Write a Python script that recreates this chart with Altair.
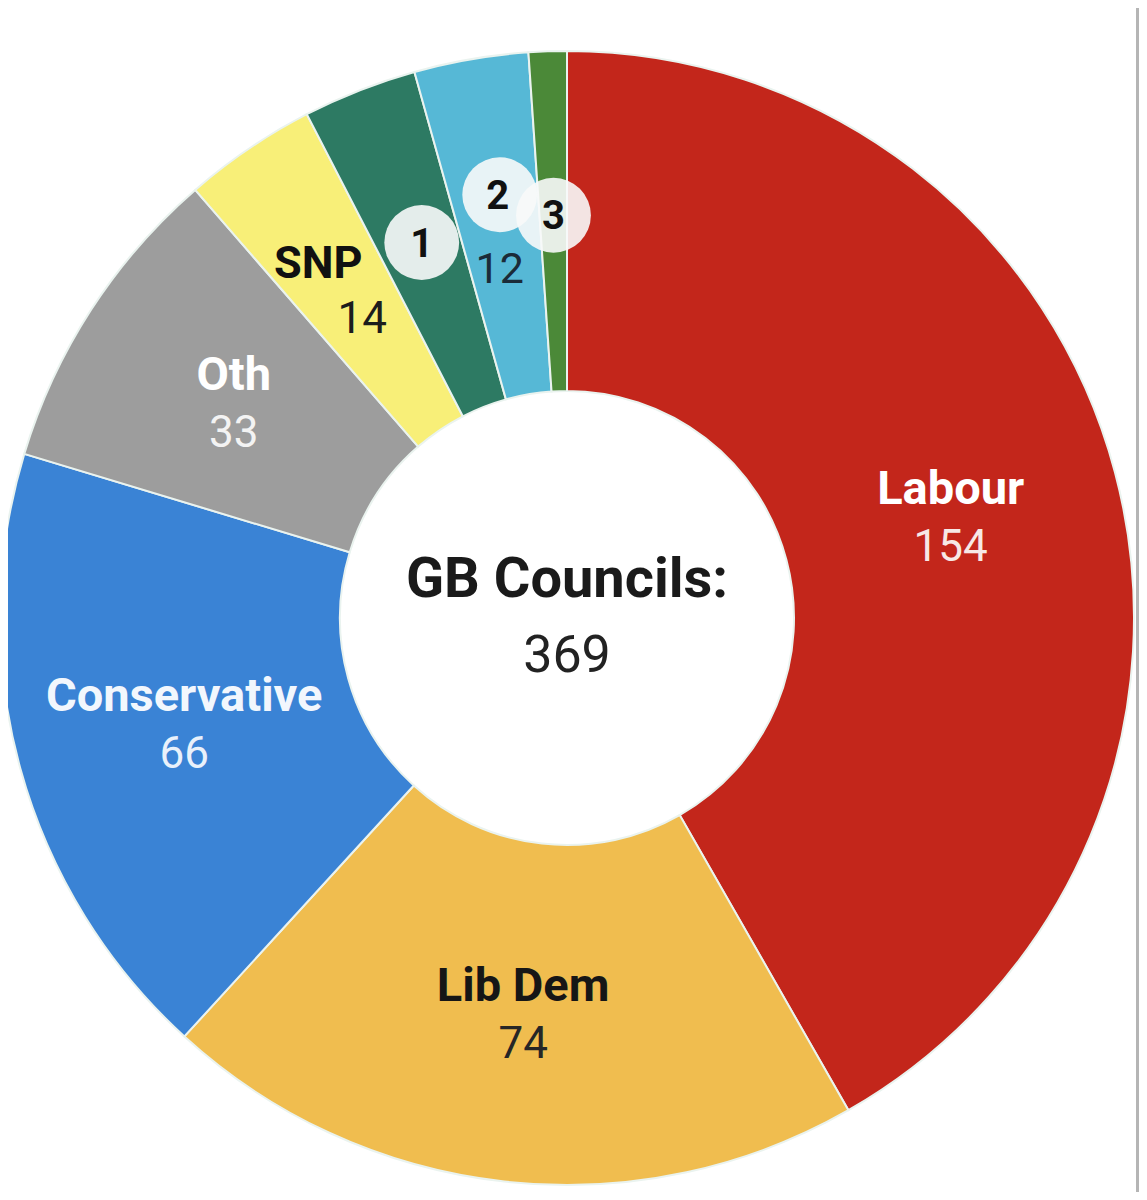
import math
import altair as alt
import pandas as pd

# ---- data ----
parties = ["Labour", "Lib Dem", "Conservative", "Oth", "SNP", "1", "2", "3"]
councils = [154, 74, 66, 33, 14, 12, 12, 4]
colors = ["#c3261b", "#f0bd4f", "#3a83d5", "#9d9d9d", "#f8ef78", "#2d7a63", "#56b8d6", "#4b8938"]
name_colors = ["#ffffff", "#161616", "#f2f7fd", "#ffffff", "#111111", "#111111", "#111111", "#111111"]
value_colors = ["#f7e8e6", "#262626", "#e9f1fb", "#f3f3f3", "#1c1c1c", "#1c1c1c", "#1b2b38", "#1c1c1c"]
center_title = "GB Councils:"
center_total = str(sum(councils))

df = pd.DataFrame({
    "party": parties,
    "councils": councils,
    "order": list(range(len(parties))),
    "name_color": name_colors,
    "value_color": value_colors,
})

W, H = 1131, 1184
CX, CY = 559, 610
R_IN, R_OUT, R_LAB = 227, 567, 397
TOTAL = sum(councils)

theta_scale = alt.Scale(domain=[0, TOTAL], range=[0, 2 * math.pi])

base = (
    alt.Chart(df)
    .transform_window(cum="sum(councils)", sort=[alt.SortField("order")], frame=[None, 0])
    .transform_joinaggregate(total="sum(councils)")
    .transform_calculate(
        start="datum.cum - datum.councils",
        mid="datum.cum - datum.councils / 2",
        ang="(datum.cum - datum.councils / 2) / datum.total * 2 * PI",
    )
)

arcs = base.mark_arc(innerRadius=R_IN, outerRadius=R_OUT, stroke="#eaf3ef", strokeWidth=2).encode(
    x=alt.value(CX),
    y=alt.value(CY),
    theta=alt.Theta("start:Q", scale=theta_scale, stack=False),
    theta2="cum:Q",
    color=alt.Color("party:N", scale=alt.Scale(domain=parties, range=colors), legend=None),
)


def polar_text(parties_sel, field, dx, dy, size, weight, color_field):
    return (
        base.transform_filter(alt.FieldOneOfPredicate(field="party", oneOf=parties_sel))
        .mark_text(radius=R_LAB, dx=dx, dy=dy, font="Roboto", fontSize=size,
                   fontWeight=weight, baseline="alphabetic", align="center")
        .encode(
            x=alt.value(CX),
            y=alt.value(CY),
            theta=alt.Theta("mid:Q", scale=theta_scale, stack=False),
            text=alt.Text(field),
            color=alt.Color(color_field + ":N", scale=None),
        )
    )


big = ["Labour", "Lib Dem", "Conservative", "Oth"]
names = polar_text(big, "party:N", 0, -12, 47, "bold", "name_color")
values = polar_text(big, "councils:Q", 0, 45, 44, "normal", "value_color")
snp_name = polar_text(["SNP"], "party:N", -26, -11, 45, "bold", "name_color")
snp_value = polar_text(["SNP"], "councils:Q", 18, 44, 44, "normal", "value_color")
two_value = polar_text(["2"], "councils:Q", 0, 56, 43, "normal", "value_color")


def badge_circles(parties_sel, off):
    return (
        base.transform_filter(alt.FieldOneOfPredicate(field="party", oneOf=parties_sel))
        .transform_calculate(
            px=f"{CX} + {R_LAB} * sin(datum.ang)",
            py=f"{CY} - {R_LAB} * cos(datum.ang) + ({off})",
        )
        .mark_circle(size=5600, color="#f8fafa", opacity=0.9)
        .encode(x=alt.X("px:Q", scale=None), y=alt.Y("py:Q", scale=None))
    )


badges13 = badge_circles(["1", "3"], -6)
badges2 = badge_circles(["2"], -32)
badge_txt13 = polar_text(["1", "3"], "party:N", 0, 8, 40, "bold", "name_color")
badge_txt2 = polar_text(["2"], "party:N", -2, -18, 40, "bold", "name_color")

center = alt.Chart(pd.DataFrame({"t": [center_title]})).mark_text(
    font="Roboto", fontWeight="bold", fontSize=56, color="#1a1a1a", baseline="alphabetic", align="center"
).encode(text="t:N", x=alt.value(CX), y=alt.value(589))

center_num = alt.Chart(pd.DataFrame({"t": [center_total]})).mark_text(
    font="Roboto", fontWeight="normal", fontSize=52, color="#222222", baseline="alphabetic", align="center"
).encode(text="t:N", x=alt.value(CX), y=alt.value(664))

edge = alt.Chart(pd.DataFrame({"a": [0]})).mark_rule(color="#b5b5b5", strokeWidth=3).encode(
    x=alt.value(1129.5), y=alt.value(0), y2=alt.value(H)
)

chart = (
    alt.layer(arcs, names, values, snp_name, snp_value, two_value,
              badges13, badges2, badge_txt13, badge_txt2, center, center_num, edge)
    .resolve_scale(color="independent")
    .properties(width=W, height=H, padding=0, background="#ffffff",
                autosize=alt.AutoSizeParams(type="none"))
    .configure_view(strokeWidth=0)
)

chart.save("out.html", embed_options={"renderer": "svg", "actions": False})
